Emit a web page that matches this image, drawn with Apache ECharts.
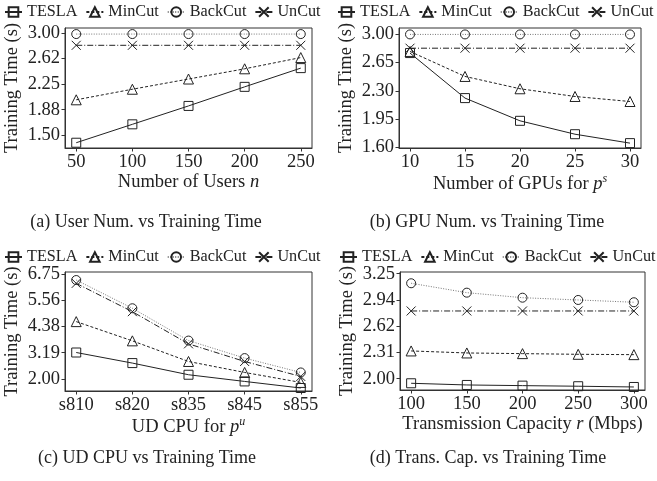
<!DOCTYPE html>
<html>
<head>
<meta charset="utf-8">
<script src="https://cdn.jsdelivr.net/npm/echarts@6/dist/echarts.min.js"></script>
<style>
html,body{margin:0;padding:0;background:#fff;}
#chart{width:657px;height:481px;}
</style>
</head>
<body>
<div id="chart"></div>
<script>
// ---------- data ----------
const seriesNames = ['TESLA', 'MinCut', 'BackCut', 'UnCut'];

// (a) number of users
const usersX = [50, 100, 150, 200, 250];
const aTESLA = [1.39, 1.66, 1.93, 2.21, 2.485];
const aMinCut = [2.02, 2.175, 2.325, 2.475, 2.64];
const aBackCut = [2.985, 2.985, 2.985, 2.985, 2.985];
const aUnCut = [2.82, 2.82, 2.82, 2.82, 2.82];
const aYTicks = [1.5, 1.875, 2.25, 2.625, 3.0];
const aYLabels = ['1.50', '1.88', '2.25', '2.62', '3.00'];

// (b) number of GPUs
const gpuX = [10, 15, 20, 25, 30];
const bTESLA = [2.765, 2.21, 1.93, 1.765, 1.655];
const bMinCut = [2.785, 2.477, 2.325, 2.23, 2.168];
const bBackCut = [2.995, 2.995, 2.995, 2.995, 2.995];
const bUnCut = [2.825, 2.825, 2.825, 2.825, 2.825];
const bYTicks = [1.6, 1.95, 2.3, 2.65, 3.0];
const bYLabels = ['1.60', '1.95', '2.30', '2.65', '3.00'];

// (c) UD CPU
const cpuCats = ['s810', 's820', 's835', 's845', 's855'];
const cTESLA = [3.197, 2.72, 2.194, 1.892, 1.595];
const cMinCut = [4.591, 3.723, 2.792, 2.297, 1.847];
const cBackCut = [6.467, 5.194, 3.736, 2.945, 2.297];
const cUnCut = [6.318, 5.04, 3.588, 2.792, 2.117];
const cYTicks = [2.0, 3.1875, 4.375, 5.5625, 6.75];
const cYLabels = ['2.00', '3.19', '4.38', '5.56', '6.75'];

// (d) transmission capacity
const capX = [100, 150, 200, 250, 300];
const dTESLA = [1.945, 1.925, 1.917, 1.91, 1.901];
const dMinCut = [2.33, 2.306, 2.298, 2.29, 2.286];
const dBackCut = [3.136, 3.024, 2.964, 2.937, 2.91];
const dUnCut = [2.806, 2.806, 2.806, 2.806, 2.806];
const dYTicks = [2.0, 2.3125, 2.625, 2.9375, 3.25];
const dYLabels = ['2.00', '2.31', '2.62', '2.94', '3.25'];

const captions = ['(a) User Num. vs Training Time', '(b) GPU Num. vs Training Time',
                  '(c) UD CPU vs Training Time', '(d) Trans. Cap. vs Training Time'];

// ---------- styling ----------
const FONT = 'Liberation Serif';
const INK = '#222';
const styles = {
  TESLA:   {symbol: 'rect', size: 9, line: {color: INK, width: 1, type: 'solid'}},
  MinCut:  {symbol: 'triangle', size: 10, line: {color: INK, width: 1, type: [3, 2]}},
  BackCut: {symbol: 'circle', size: 9, line: {color: '#777', width: 1, type: [1, 1.5]}},
  UnCut:   {symbol: 'path://M0,0L10,10M10,0L0,10', size: 9, line: {color: INK, width: 1, type: [6, 2, 1, 2]}}
};

const panels = [
  {grid: {left: 65, top: 28, width: 247, height: 120}, xmin: 40, xmax: 260, xTicks: usersX,
   xLabel: v => String(v), xName: '{t|Number of Users }{i|n}',
   ymin: 1.3125, ymax: 3.074, yTicks: aYTicks, yLabels: aYLabels,
   data: [aTESLA, aMinCut, aBackCut, aUnCut], xs: usersX,
   legend: {left: 4, top: 4}, caption: {x: 146, y: 213}},
  {grid: {left: 399, top: 28, width: 242, height: 120}, xmin: 9, xmax: 31, xTicks: gpuX,
   xLabel: v => String(v), xName: '{t|Number of GPUs for }{i|p}{s|s}',
   ymin: 1.595, ymax: 3.074, yTicks: bYTicks, yLabels: bYLabels,
   data: [bTESLA, bMinCut, bBackCut, bUnCut], xs: gpuX,
   legend: {left: 337, top: 4}, caption: {x: 487, y: 213}},
  {grid: {left: 65, top: 272, width: 247, height: 119}, xmin: -0.2, xmax: 4.2, xTicks: [0, 1, 2, 3, 4],
   xLabel: v => cpuCats[Math.round(v)], xName: '{t|UD CPU for }{i|p}{s|u}',
   ymin: 1.46, ymax: 6.83, yTicks: cYTicks, yLabels: cYLabels,
   data: [cTESLA, cMinCut, cBackCut, cUnCut], xs: cpuCats.map((c, i) => i),
   legend: {left: 4, top: 249}, caption: {x: 147, y: 449}},
  {grid: {left: 400, top: 272, width: 245, height: 118}, xmin: 90, xmax: 310, xTicks: capX,
   xLabel: v => String(v), xName: '{t|Transmission Capacity }{i|r}{t| (Mbps)}',
   ymin: 1.865, ymax: 3.27, yTicks: dYTicks, yLabels: dYLabels,
   data: [dTESLA, dMinCut, dBackCut, dUnCut], xs: capX,
   legend: {left: 339, top: 249}, caption: {x: 488, y: 449}}
];

const grids = [], xAxes = [], yAxes = [], series = [], legends = [], titles = [];
const axisLineStyle = {color: '#333', width: 1};
panels.forEach((p, gi) => {
  grids.push(Object.assign({show: true, borderColor: '#333', borderWidth: 1, containLabel: false}, p.grid));
  xAxes.push({
    type: 'value', gridIndex: gi, min: p.xmin, max: p.xmax,
    axisLine: {show: true, onZero: false, lineStyle: axisLineStyle},
    axisTick: {show: true, length: 3.5, inside: false, customValues: p.xTicks, lineStyle: axisLineStyle},
    axisLabel: {customValues: p.xTicks, formatter: p.xLabel, fontFamily: FONT, fontSize: 18.5, color: INK, margin: 5},
    splitLine: {show: false},
    name: p.xName, nameLocation: 'middle', nameGap: 18,
    nameTextStyle: {
      fontFamily: FONT, fontSize: 18.5, color: INK, verticalAlign: 'top',
      rich: {
        t: {fontFamily: FONT, fontSize: 18.5, color: INK},
        i: {fontFamily: FONT, fontSize: 18.5, color: INK, fontStyle: 'italic'},
        s: {fontFamily: FONT, fontSize: 12, color: INK, fontStyle: 'italic', padding: [0, 0, 10, 0]}
      }
    }
  });
  yAxes.push({
    type: 'value', gridIndex: gi, min: p.ymin, max: p.ymax,
    axisLine: {show: true, onZero: false, lineStyle: axisLineStyle},
    axisTick: {show: true, length: 3.5, inside: false, customValues: p.yTicks, lineStyle: axisLineStyle},
    axisLabel: {customValues: p.yTicks, formatter: v => p.yLabels[p.yTicks.findIndex(t => Math.abs(t - v) < 1e-6)],
      fontFamily: FONT, fontSize: 18.5, color: INK, margin: 5},
    splitLine: {show: false},
    name: 'Training Time (s)', nameLocation: 'middle', nameGap: 43,
    nameTextStyle: {fontFamily: FONT, fontSize: 18.5, color: INK}
  });
  seriesNames.forEach((name, si) => {
    const st = styles[name];
    series.push({
      type: 'line', name: name, xAxisIndex: gi, yAxisIndex: gi,
      data: p.xs.map((x, k) => [x, p.data[si][k]]),
      symbol: st.symbol, symbolSize: st.size, showAllSymbol: true,
      itemStyle: {color: 'rgba(0,0,0,0)', borderColor: INK, borderWidth: 1},
      lineStyle: st.line,
      emphasis: {disabled: true}, silent: true, z: 2 + si
    });
  });
  legends.push({
    left: p.legend.left, top: p.legend.top, width: 360, orient: 'horizontal',
    itemWidth: 17, itemHeight: 12, itemGap: 8, padding: 0,
    data: seriesNames, selectedMode: false,
    textStyle: {fontFamily: FONT, fontSize: 16.2, color: INK}
  });
  titles.push({
    text: captions[gi], left: p.caption.x, top: p.caption.y, textAlign: 'center', padding: 0,
    textStyle: {fontFamily: FONT, fontSize: 18, fontWeight: 'normal', color: INK}
  });
});

const chart = echarts.init(document.getElementById('chart'), null, {renderer: 'canvas'});
chart.setOption({
  animation: false,
  backgroundColor: '#fff',
  title: titles,
  legend: legends,
  grid: grids,
  xAxis: xAxes,
  yAxis: yAxes,
  series: series
});
</script>
</body>
</html>
